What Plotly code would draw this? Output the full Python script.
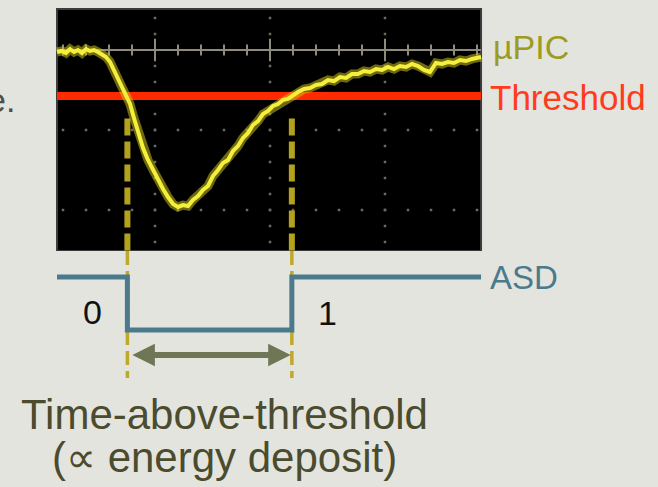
import plotly.graph_objects as go

# ---------------- data (oscilloscope divisions) ----------------
# time in horizontal divisions, voltage in vertical divisions (0 = baseline marker)
pulse_t = [-0.852, -0.809, -0.774, -0.739, -0.704, -0.670, -0.635, -0.600, -0.565, -0.530,
           -0.496, -0.461, -0.426, -0.391, -0.357, -0.322, -0.287, -0.252, -0.217, -0.183,
           -0.148, -0.104, -0.061, -0.017, 0.026, 0.070, 0.113, 0.157, 0.200, 0.243,
           0.287, 0.330, 0.374, 0.417, 0.461, 0.504, 0.548, 0.591, 0.635, 0.678,
           0.722, 0.765, 0.809, 0.852, 0.896, 0.939, 0.983, 1.026, 1.070, 1.113,
           1.157, 1.200, 1.243, 1.296, 1.348, 1.400, 1.452, 1.504, 1.557, 1.609,
           1.661, 1.713, 1.765, 1.817, 1.870, 1.922, 1.974, 2.026, 2.078, 2.130,
           2.183, 2.235, 2.287, 2.339, 2.391, 2.443, 2.496, 2.548, 2.600, 2.652,
           2.704, 2.757, 2.809, 2.835]
pulse_v = [-0.025, -0.012, -0.038, 0.012, -0.025, 0.000, -0.038, 0.012, -0.012, 0.000,
           -0.025, -0.050, -0.088, -0.150, -0.250, -0.350, -0.450, -0.550, -0.675, -0.850,
           -1.025, -1.225, -1.375, -1.500, -1.625, -1.738, -1.838, -1.925, -1.962, -1.938,
           -1.950, -1.875, -1.825, -1.750, -1.700, -1.575, -1.500, -1.412, -1.375, -1.262,
           -1.200, -1.100, -1.038, -0.938, -0.888, -0.800, -0.762, -0.700, -0.675, -0.625,
           -0.612, -0.562, -0.525, -0.488, -0.475, -0.438, -0.425, -0.375, -0.388, -0.338,
           -0.350, -0.300, -0.300, -0.262, -0.275, -0.238, -0.250, -0.212, -0.238, -0.200,
           -0.212, -0.175, -0.200, -0.250, -0.275, -0.162, -0.175, -0.150, -0.162, -0.125,
           -0.138, -0.112, -0.100, -0.088]

threshold_v = -0.575
crossing_t = [-0.24, 1.19]            # time where the pulse crosses the threshold

screen_t = [-0.852, 2.835]            # visible part of the scope screen
screen_v = [-2.5125, 0.5125]
major_t = [0, 1, 2]
major_v = [-1, -2]

# ASD digital output (logic level)
asd_t = [-0.852, -0.24, 1.19, 2.835]
asd_level = [1, 0, 1, 1]

labels = ["µPIC", "Threshold", "ASD"]
caption = ["Time-above-threshold", "(∝ energy deposit)"]

# ---------------- figure ----------------
BG = "#e4e4df"
fig = go.Figure()

# scope screen
fig.add_shape(type="rect", xref="x", yref="y",
              x0=screen_t[0], x1=screen_t[1], y0=screen_v[0], y1=screen_v[1],
              fillcolor="#000000", line=dict(color="#3c3c3c", width=2), layer="below")

def frange(a, b, step):
    out = []
    n = int(round((b - a) / step))
    for i in range(n + 1):
        out.append(round(a + i * step, 4))
    return out

# minor dots on major grid lines
dot_x, dot_y = [], []
for t in major_t:
    for v in frange(-2.4, 0.4, 0.2):
        dot_x.append(t); dot_y.append(v)
for v in major_v:
    for t in frange(-0.8, 2.8, 0.2):
        dot_x.append(t); dot_y.append(v)
fig.add_trace(go.Scatter(x=dot_x, y=dot_y, mode="markers", xaxis="x", yaxis="y",
                         marker=dict(symbol="square", size=2.5, color="#6a6a62"),
                         hoverinfo="skip"))

# baseline marker line with ticks
fig.add_trace(go.Scatter(x=screen_t, y=[0, 0], mode="lines",
                         line=dict(color="#8f8b7a", width=2), hoverinfo="skip"))
tick_t = frange(-0.8, 2.8, 0.2)
fig.add_trace(go.Scatter(x=tick_t, y=[0] * len(tick_t), mode="markers",
                         marker=dict(symbol="line-ns", size=8,
                                     line=dict(color="#8f8b7a", width=2)),
                         hoverinfo="skip"))
fig.add_trace(go.Scatter(x=major_t, y=[0] * len(major_t), mode="markers",
                         marker=dict(symbol="line-ns", size=16,
                                     line=dict(color="#8f8b7a", width=2)),
                         hoverinfo="skip"))

# threshold line
fig.add_trace(go.Scatter(x=screen_t, y=[threshold_v, threshold_v], mode="lines",
                         line=dict(color="#ff2a00", width=8), hoverinfo="skip"))

# dashed markers inside the scope
for t in crossing_t:
    fig.add_trace(go.Scatter(x=[t, t], y=[threshold_v - 0.28, screen_v[0]], mode="lines",
                             line=dict(color="#b3a21e", width=6, dash="17px,6px"),
                             hoverinfo="skip"))

# pulse (glow + core)
fig.add_trace(go.Scatter(x=pulse_t, y=pulse_v, mode="lines",
                         line=dict(color="rgba(200,190,30,0.55)", width=9),
                         hoverinfo="skip"))
fig.add_trace(go.Scatter(x=pulse_t, y=pulse_v, mode="lines",
                         line=dict(color="#f4ef3a", width=4), hoverinfo="skip"))

# dashed markers below the scope (ASD axis)
for t in crossing_t:
    fig.add_trace(go.Scatter(x=[t, t], y=[1.49, -0.906], mode="lines", xaxis="x", yaxis="y2",
                             line=dict(color="#c0a828", width=3.5, dash="14px,6px"),
                             hoverinfo="skip"))

# ASD output
fig.add_trace(go.Scatter(x=asd_t, y=asd_level, mode="lines", xaxis="x", yaxis="y2",
                         line=dict(color="#4b7a8d", width=5, shape="hv"),
                         hoverinfo="skip"))

# double arrow (time-over-threshold)
fig.add_annotation(x=crossing_t[1] - 0.01, y=-0.47, ax=crossing_t[0] + 0.03, ay=-0.47,
                   xref="x", yref="y2", axref="x", ayref="y2", text="",
                   showarrow=True, arrowhead=2, startarrowhead=2, arrowside="end+start",
                   arrowsize=0.75, startarrowsize=0.75, arrowwidth=6, arrowcolor="#6e7656")

FONT = "Liberation Sans"
def px(xp, yp):
    return xp / 658, 1 - yp / 487

for (text, color, xp, yp, size) in [
        (labels[0], "#9c9b22", 491, 47, 34),
        (labels[1], "#ff3b1c", 488, 97, 35),
        (labels[2], "#4b7a8d", 488, 277, 33)]:
    x, y = px(xp, yp)
    fig.add_annotation(x=x, y=y, xref="paper", yref="paper", text=text, showarrow=False,
                       xanchor="left", yanchor="middle", font=dict(family=FONT, size=size, color=color))

for (text, xp, yp) in [("0", 92, 312), ("1", 327, 313)]:
    x, y = px(xp, yp)
    fig.add_annotation(x=x, y=y, xref="paper", yref="paper", text=text, showarrow=False,
                       xanchor="center", yanchor="middle",
                       font=dict(family=FONT, size=34, color="#111111"))

for (text, yp) in [(caption[0], 414), (caption[1], 457)]:
    x, y = px(225, yp)
    fig.add_annotation(x=x, y=y, xref="paper", yref="paper", text=text, showarrow=False,
                       xanchor="center", yanchor="middle",
                       font=dict(family=FONT, size=42, color="#4b4b2e"))

# cropped slide text on the left edge
x, y = px(17, 100)
fig.add_annotation(x=x, y=y, xref="paper", yref="paper", text="e.", showarrow=False,
                   xanchor="right", yanchor="middle", font=dict(family=FONT, size=34, color="#4e4e4e"))

fig.update_layout(
    width=658, height=487, margin=dict(l=0, r=0, t=0, b=0),
    paper_bgcolor=BG, plot_bgcolor=BG, showlegend=False,
    xaxis=dict(range=[-1.3478, 4.3739], visible=False, fixedrange=True),
    yaxis=dict(range=[-5.4625, 0.625], visible=False, domain=[0, 1], fixedrange=True),
    yaxis2=dict(range=[-2.9623, 1.4906], visible=False, domain=[0, 0.4846],
                anchor="x", fixedrange=True),
)

fig.write_html("out.html", config={"displayModeBar": False},
               post_script="document.body.style.margin='0';document.body.style.overflow='hidden';")
